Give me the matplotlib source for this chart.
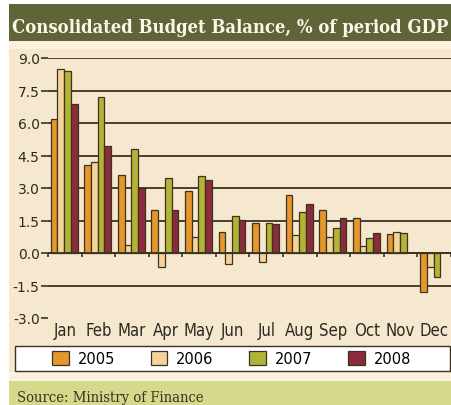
import matplotlib
matplotlib.use("Agg")
import matplotlib.pyplot as plt
from matplotlib import font_manager as fm
from matplotlib.patches import Rectangle, Patch
import numpy as np

months = ["Jan", "Feb", "Mar", "Apr", "May", "Jun", "Jul", "Aug", "Sep", "Oct", "Nov", "Dec"]
years = ["2005", "2006", "2007", "2008"]
v2005 = [6.2, 4.08, 3.59, 2.0, 2.85, 0.99, 1.37, 2.70, 2.0, 1.60, 0.88, -1.79]
v2006 = [8.47, 4.19, 0.37, -0.66, 0.72, -0.51, -0.40, 0.82, 0.72, 0.34, 0.97, -0.66]
v2007 = [8.41, 7.18, 4.82, 3.45, 3.56, 1.73, 1.37, 1.91, 1.17, 0.71, 0.92, -1.09]
v2008 = [6.89, 4.92, 2.99, 2.0, 3.39, 1.51, 1.33, 2.25, 1.60, 0.91, None, None]
yticks = [-3.0, -1.5, 0.0, 1.5, 3.0, 4.5, 6.0, 7.5, 9.0]
title = "Consolidated Budget Balance, % of period GDP"
source = "Source: Ministry of Finance"

colors = ["#e6962b", "#f5d49b", "#b3b336", "#8c2b3b"]
edge = "#3a3322"
panel = "#f6e8ce"
W, H = 452, 406


def pick(cands, default):
    for fam, stretch, weight, must in cands:
        try:
            p = fm.findfont(fm.FontProperties(family=fam, stretch=stretch, weight=weight),
                            fallback_to_default=False)
        except Exception:
            continue
        if must is None or must.lower() in p.lower():
            return dict(family=fam, stretch=stretch)
    return default


month_font = pick([("Liberation Sans Narrow", "normal", "normal", "narrow"),
                   ("DejaVu Sans", "condensed", "normal", "condensed")],
                  dict(family="DejaVu Sans", stretch="normal"))
serif_font = pick([("DejaVu Serif", "condensed", "bold", "condensed")],
                  dict(family="DejaVu Serif", stretch="normal"))

fig = plt.figure(figsize=(W / 100, H / 100), dpi=100)
fig.patch.set_facecolor("white")


def fx(px):
    return px / W


def fy(py):
    return 1 - py / H


# backgrounds
fig.add_artist(Rectangle((fx(9), fy(406)), fx(452 - 9), 24 / H, transform=fig.transFigure,
                         facecolor="#d4d98b", edgecolor="none", zorder=0))
fig.add_artist(Rectangle((fx(9), fy(382)), fx(452 - 9), (382 - 40) / H, transform=fig.transFigure,
                         facecolor="#fdf0dc", edgecolor="none", zorder=0))
fig.add_artist(Rectangle((fx(9), fy(373)), fx(452 - 9), (373 - 50) / H, transform=fig.transFigure,
                         facecolor=panel, edgecolor="none", zorder=0))
fig.add_artist(Rectangle((fx(9), fy(42)), fx(452 - 9), 37 / H, transform=fig.transFigure,
                         facecolor="#5f6538", edgecolor="none", zorder=0))

t = fig.text(fx(12), fy(33), title, color="#fdf6e6", fontsize=15, fontweight="bold",
             ha="left", va="baseline", **serif_font)
s = fig.text(fx(17), fy(402), source, color="#3a3322", fontsize=10.5,
             ha="left", va="baseline", **serif_font)
probe = fig.text(0, 0, "May", fontsize=12.5, **month_font)
fig.canvas.draw()
r = fig.canvas.get_renderer()
tw = t.get_window_extent(r).width
t.set_fontsize(15 * 437 / tw)
sw = s.get_window_extent(r).width
s.set_fontsize(10.5 * 187 / sw)
mw = probe.get_window_extent(r).width
month_size = min(12.5, 12.5 * 31 / mw)
probe.remove()

ax = fig.add_axes([fx(48), fy(319), fx(451 - 48), (319 - 59) / H])
ax.set_facecolor("none")
for sp in ax.spines.values():
    sp.set_visible(False)
ax.set_xlim(0, 12)
ax.set_ylim(-3.0, 9.0)

x = np.arange(len(months)) + 0.5
series = [v2005, v2006, v2007, v2008]
bw = 0.2
for k, (vals, c) in enumerate(zip(series, colors)):
    xs = [xi + (k - 1.5) * bw - 0.02 for xi, v in zip(x, vals) if v is not None]
    vs = [v for v in vals if v is not None]
    ax.bar(xs, vs, width=bw, color=c, edgecolor=edge, linewidth=0.9, zorder=3)

ax.hlines([y for y in yticks if y > -3.0], 0, 12, colors="#3a3322", linewidth=1.3, zorder=1)
ax.axhline(0, color="#3a3322", linewidth=1.3, zorder=4)

ax.set_yticks(yticks)
ax.set_yticklabels([f"{y:.1f}" for y in yticks])
ax.tick_params(axis="y", length=5, width=1.2, color="#3a3322", pad=1, labelsize=10,
               labelcolor="#2a2a22")
ax.set_xticks(x)
ax.set_xticklabels(months, fontsize=month_size, **month_font)
ax.tick_params(axis="x", which="major", length=0, pad=2.5, labelcolor="#2a2a22")

# month boundary ticks on the zero line
ax.vlines(np.arange(0, 13), -0.18, 0, colors="#3a3322", linewidth=1.2, zorder=4, clip_on=False)

# legend box
fig.add_artist(Rectangle((fx(15), fy(372)), fx(450 - 15), 25 / H, transform=fig.transFigure,
                         facecolor="white", edgecolor="#3a3322", linewidth=1.0, zorder=1))
handles = [Patch(facecolor=c, edgecolor=edge, linewidth=0.9, label=y) for c, y in zip(colors, years)]
leg = fig.legend(handles=handles, loc="center left", ncol=4,
                 bbox_to_anchor=(fx(52), fy(359.5)),
                 fontsize=10.5, frameon=False, handlelength=1.15, handleheight=1.0,
                 handletextpad=0.6, columnspacing=2.45, borderaxespad=0, borderpad=0)
leg.set_zorder(2)

fig.savefig("out.png", dpi=100, facecolor=fig.get_facecolor())
